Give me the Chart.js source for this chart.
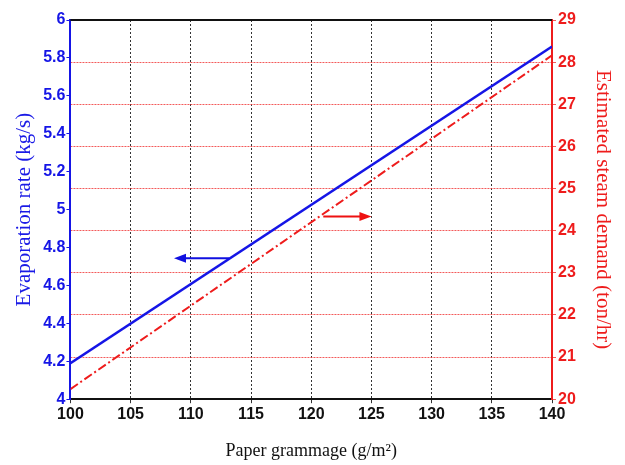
<!DOCTYPE html>
<html>
<head>
<meta charset="utf-8">
<script src="https://cdn.jsdelivr.net/npm/chart.js@4"></script>
<style>
  html, body { margin: 0; padding: 0; background: #ffffff; }
  #wrap { width: 625px; height: 465px; }
</style>
</head>
<body>
<div id="wrap"><canvas id="chart" width="625" height="465"></canvas></div>
<script>
// Data
const grammage = [100, 140];
const evaporationRate = [4.19, 5.86];    // kg/s, left axis
const steamDemand = [20.24, 28.16];      // ton/hr, right axis

const xTicks = [100, 105, 110, 115, 120, 125, 130, 135, 140];
const leftTicks = [4, 4.2, 4.4, 4.6, 4.8, 5, 5.2, 5.4, 5.6, 5.8, 6];
const rightTicks = [20, 21, 22, 23, 24, 25, 26, 27, 28, 29];

// annotation arrows: [xFrom, xTo, y on left axis]
const blueArrow = [113.2, 108.6, 4.743];
const redArrow = [121.0, 125.0, 4.964];

const tickFont = { family: "'Liberation Sans', Arial, sans-serif", size: 16, weight: 'bold' };
const titleFont = { family: "'Liberation Serif', 'Times New Roman', serif", size: 18 };
const sideTitleFont = { family: "'Liberation Serif', 'Times New Roman', serif", size: 21 };

function plainNumber(value) {
    return String(+Number(value).toFixed(2));
}

// Helper for arrows in data coordinates
function drawArrow(chart, spec, color) {
    const ctx = chart.ctx;
    const xs = chart.scales.x;
    const ys = chart.scales.y;
    const x1 = xs.getPixelForValue(spec[0]);
    const x2 = xs.getPixelForValue(spec[1]);
    const y = ys.getPixelForValue(spec[2]);
    const dir = x2 > x1 ? 1 : -1;
    ctx.save();
    ctx.strokeStyle = color;
    ctx.fillStyle = color;
    ctx.lineWidth = 2;
    ctx.beginPath();
    ctx.moveTo(x1, y);
    ctx.lineTo(x2 - dir * 8, y);
    ctx.stroke();
    ctx.beginPath();
    ctx.moveTo(x2, y);
    ctx.lineTo(x2 - dir * 12, y - 4.5);
    ctx.lineTo(x2 - dir * 12, y + 4.5);
    ctx.closePath();
    ctx.fill();
    ctx.restore();
}

const framePlugin = {
    id: 'frame',
    afterDatasetsDraw(chart) {
        const ctx = chart.ctx;
        const a = chart.chartArea;
        ctx.save();
        ctx.strokeStyle = '#111111';
        ctx.lineWidth = 2;
        ctx.beginPath();
        ctx.moveTo(a.left, a.top);
        ctx.lineTo(a.right, a.top);
        ctx.stroke();
        ctx.restore();
        drawArrow(chart, blueArrow, '#1010e0');
        drawArrow(chart, redArrow, '#ee1111');
    }
};

new Chart(document.getElementById('chart').getContext('2d'), {
    type: 'line',
    data: {
        datasets: [
            {
                label: 'Evaporation rate',
                data: grammage.map((g, i) => ({ x: g, y: evaporationRate[i] })),
                yAxisID: 'y',
                borderColor: '#1515e6',
                borderWidth: 2.5,
                pointRadius: 0,
                fill: false
            },
            {
                label: 'Estimated steam demand',
                data: grammage.map((g, i) => ({ x: g, y: steamDemand[i] })),
                yAxisID: 'y1',
                borderColor: '#ee1c1c',
                borderWidth: 2,
                borderDash: [9, 3, 2, 3],
                pointRadius: 0,
                fill: false
            }
        ]
    },
    options: {
        responsive: false,
        animation: false,
        layout: {
            padding: { top: 20, right: 10, bottom: 3, left: 12 }
        },
        plugins: {
            legend: { display: false },
            tooltip: { enabled: false }
        },
        scales: {
            x: {
                type: 'linear',
                min: 100,
                max: 140,
                afterBuildTicks: axis => { axis.ticks = xTicks.map(v => ({ value: v })); },
                grid: {
                    color: '#333333',
                    lineWidth: 1,
                    tickLength: 4
                },
                border: { color: '#111111', width: 2, dash: [2, 2] },
                ticks: {
                    color: '#111111',
                    font: tickFont,
                    padding: 2,
                    maxRotation: 0,
                    callback: plainNumber
                },
                title: {
                    display: true,
                    text: 'Paper grammage (g/m²)',
                    color: '#111111',
                    font: titleFont,
                    padding: { top: 14, bottom: 0 }
                }
            },
            y: {
                type: 'linear',
                position: 'left',
                min: 4,
                max: 6,
                afterBuildTicks: axis => { axis.ticks = leftTicks.map(v => ({ value: v })); },
                grid: {
                    drawOnChartArea: false,
                    color: '#1515e6',
                    tickLength: 4
                },
                border: { color: '#1515e6', width: 2 },
                ticks: {
                    color: '#1515e6',
                    font: tickFont,
                    padding: 1,
                    callback: plainNumber
                },
                title: {
                    display: true,
                    text: 'Evaporation rate (kg/s)',
                    color: '#1a1ae6',
                    font: sideTitleFont,
                    padding: { top: 0, bottom: 5 }
                }
            },
            y1: {
                type: 'linear',
                position: 'right',
                min: 20,
                max: 29,
                afterBuildTicks: axis => { axis.ticks = rightTicks.map(v => ({ value: v })); },
                grid: {
                    color: 'rgba(240, 50, 50, 0.8)',
                    lineWidth: 1,
                    tickLength: 4
                },
                border: { color: '#ee1c1c', width: 2, dash: [2, 1] },
                ticks: {
                    color: '#ee1c1c',
                    font: tickFont,
                    padding: 2,
                    callback: plainNumber
                },
                title: {
                    display: true,
                    text: 'Estimated steam demand (ton/hr)',
                    color: '#ee1c1c',
                    font: sideTitleFont,
                    padding: { top: 0, bottom: 12 }
                }
            }
        }
    },
    plugins: [framePlugin]
});
</script>
</body>
</html>
